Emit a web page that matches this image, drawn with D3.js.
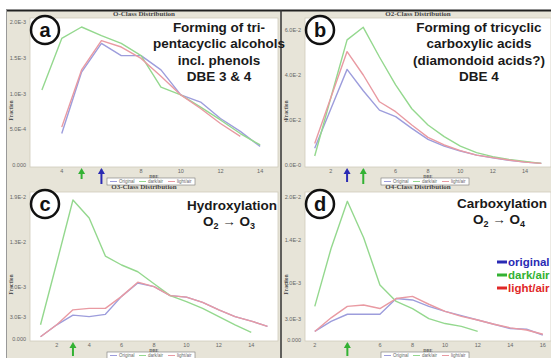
<!DOCTYPE html>
<html>
<head>
<meta charset="utf-8">
<script src="https://cdn.jsdelivr.net/npm/d3@7"></script>
<style>
  body { margin: 0; background: #fff; }
  svg { display: block; }
</style>
</head>
<body>
<div id="chart"></div>
<script>
// panel a: O class
const dbeA = [3, 4, 5, 6, 7, 8, 9, 10, 11, 12, 13, 14];
const origA = [null, 0.44e-3, 1.30e-3, 1.70e-3, 1.53e-3, 1.53e-3, 1.33e-3, 0.98e-3, 0.88e-3, 0.65e-3, 0.47e-3, 0.26e-3];
const darkA = [1.05e-3, 1.77e-3, 1.93e-3, 1.81e-3, 1.70e-3, 1.53e-3, 1.09e-3, 0.98e-3, 0.81e-3, 0.63e-3, 0.44e-3, 0.28e-3];
const lightA = [null, 0.53e-3, 1.33e-3, 1.74e-3, 1.65e-3, 1.49e-3, 1.24e-3, 0.98e-3, 0.79e-3, 0.58e-3, 0.40e-3, null];

// panel b: O2 class
const dbeB = [1, 2, 3, 4, 5, 6, 7, 8, 9, 10, 11, 12, 13, 14, 15];
const origB = [7.4e-3, 25e-3, 42.5e-3, 33e-3, 24.4e-3, 21.5e-3, 16.3e-3, 11.4e-3, 8.4e-3, 6.2e-3, 4.4e-3, 3.2e-3, 2.1e-3, 1.3e-3, 0.7e-3];
const darkB = [4.0e-3, 30e-3, 55.6e-3, 61.2e-3, 48e-3, 35.6e-3, 25e-3, 17.8e-3, 12.6e-3, 8.4e-3, 5.5e-3, 3.7e-3, 2.5e-3, 1.6e-3, 0.7e-3];
const lightB = [9.6e-3, 30e-3, 50.4e-3, 40e-3, 28.1e-3, 23.7e-3, 17.8e-3, 12.3e-3, 8.9e-3, 6.4e-3, 4.4e-3, 3.3e-3, 2.2e-3, 1.3e-3, 0.7e-3];

// panel c: O3 class
const dbeC = [1, 2, 3, 4, 5, 6, 7, 8, 9, 10, 11, 12, 13, 14, 15];
const origC = [0.3e-3, 1.9e-3, 3.2e-3, 3.0e-3, 3.3e-3, 5.7e-3, 7.5e-3, 7.0e-3, 5.8e-3, 5.6e-3, 4.9e-3, 3.9e-3, 3.0e-3, 2.4e-3, 1.7e-3];
const darkC = [1.9e-3, 10.2e-3, 18.6e-3, 16.2e-3, 11.1e-3, 9.9e-3, 9.0e-3, 7.4e-3, 5.8e-3, 5.0e-3, 4.1e-3, 3.0e-3, 1.9e-3, 0.9e-3, null];
const lightC = [0.3e-3, 1.9e-3, 3.9e-3, 4.1e-3, 4.1e-3, 5.7e-3, 7.6e-3, 7.0e-3, 5.8e-3, 5.6e-3, 4.9e-3, 3.9e-3, 3.0e-3, 2.4e-3, 1.7e-3];

// panel d: O4 class
const dbeD = [2, 3, 4, 5, 6, 7, 8, 9, 10, 11, 12, 13, 14, 15, 16];
const origD = [1.2e-3, 2.6e-3, 3.6e-3, 3.6e-3, 3.6e-3, 5.8e-3, 5.6e-3, 4.7e-3, 4.0e-3, 3.4e-3, 2.8e-3, 2.2e-3, 1.6e-3, 1.5e-3, 0.7e-3];
const darkD = [4.7e-3, 12.8e-3, 19.4e-3, 14.3e-3, 7.7e-3, 5.4e-3, 4.4e-3, 3.0e-3, 2.3e-3, 1.9e-3, 1.2e-3, null, null, null, null];
const lightD = [1.2e-3, 3.1e-3, 4.7e-3, 4.9e-3, 4.4e-3, 5.8e-3, 6.1e-3, 5.0e-3, 4.0e-3, 3.3e-3, 2.8e-3, 2.2e-3, 1.7e-3, 1.4e-3, 0.8e-3];

// axis ticks
const yTicksA = [0, 5e-4, 1e-3, 1.5e-3, 2e-3];
const yLabelsA = ['0.000', '5.0E-4', '1.0E-3', '1.5E-3', '2.0E-3'];
const yTicksB = [0, 2e-2, 4e-2, 6e-2];
const yLabelsB = ['0.0E-0', '2.0E-2', '4.0E-2', '6.0E-2'];
const yTicksC = [0, 3e-3, 7e-3, 1.3e-2, 1.9e-2];
const yLabelsC = ['0.000', '3.0E-3', '7.0E-3', '1.3E-2', '1.9E-2'];
const yTicksD = [0, 3e-3, 8e-3, 1.4e-2, 2e-2];
const yLabelsD = ['0.000', '3.0E-3', '8.0E-3', '1.4E-2', '2.0E-2'];
const xTicksA = [4, 6, 8, 10, 12, 14];
const xTicksB = [2, 4, 6, 8, 10, 12, 14];
const xTicksC = [2, 4, 6, 8, 10, 12, 14];
const xTicksD = [2, 4, 6, 8, 10, 12, 14, 16];

const seriesNames = ['Original', 'dark/air', 'light/air'];
const legendNames = ['original', 'dark/air', 'light/air'];
const lineColors = ['#9d9ddc', '#94d88e', '#e99aa2'];
const strongColors = ['#2a2ab4', '#33b233', '#e02828'];

const width = 551, height = 358;
const svg = d3.select('#chart').append('svg')
    .attr('width', width).attr('height', height);

// background frame
svg.append('rect').attr('x', 6).attr('y', 10).attr('width', width - 6).attr('height', height - 10)
    .attr('fill', '#e7e4d8');
svg.append('line').attr('x1', 6).attr('x2', width).attr('y1', 10.5).attr('y2', 10.5)
    .attr('stroke', '#222').attr('stroke-width', 2);
svg.append('line').attr('x1', 6.5).attr('x2', 6.5).attr('y1', 10).attr('y2', height)
    .attr('stroke', '#999').attr('stroke-width', 1);
svg.append('line').attr('x1', 281).attr('x2', 281).attr('y1', 10).attr('y2', height)
    .attr('stroke', '#333').attr('stroke-width', 1.5);

const panels = [
    {letter: 'a', title: 'O-Class Distribution', box: [30, 278, 18, 167], titleY: 15.5,
     xDomain: [2.4, 14.9], yDomain: [0, 2e-3], yRange: [165, 22],
     dbe: dbeA, series: [origA, darkA, lightA], yTicks: yTicksA, yLabels: yLabelsA, xTicks: xTicksA,
     arrows: [{x: 5, c: 1, len: 11}, {x: 6, c: 0, len: 16}],
     text: ['Forming of tri-', 'pentacyclic alcohols', 'incl. phenols', 'DBE 3 & 4'], textX: 219, textY: 32, sub: null},
    {letter: 'b', title: 'O2-Class Distribution', box: [305, 551, 18, 167], titleY: 15.5,
     xDomain: [0.4, 15.6], yDomain: [0, 6e-2], yRange: [165, 30],
     dbe: dbeB, series: [origB, darkB, lightB], yTicks: yTicksB, yLabels: yLabelsB, xTicks: xTicksB,
     arrows: [{x: 3, c: 0, len: 14}, {x: 4, c: 1, len: 16}],
     text: ['Forming of tricyclic', 'carboxylic acids', '(diamondoid acids?)', 'DBE 4'], textX: 479, textY: 32, sub: null},
    {letter: 'c', title: 'O3-Class Distribution', box: [30, 278, 192, 341], titleY: 189,
     xDomain: [0.35, 15.65], yDomain: [0, 1.9e-2], yRange: [339, 197],
     dbe: dbeC, series: [origC, darkC, lightC], yTicks: yTicksC, yLabels: yLabelsC, xTicks: xTicksC,
     arrows: [{x: 3, c: 1, len: 14}],
     text: ['Hydroxylation'], textX: 232, textY: 210, sub: ['2', '3']},
    {letter: 'd', title: 'O4-Class Distribution', box: [305, 551, 192, 341], titleY: 189,
     xDomain: [1.4, 16.5], yDomain: [0, 2e-2], yRange: [340, 197],
     dbe: dbeD, series: [origD, darkD, lightD], yTicks: yTicksD, yLabels: yLabelsD, xTicks: xTicksD,
     arrows: [{x: 4, c: 1, len: 14}],
     text: ['Carboxylation'], textX: 502, textY: 208, sub: ['2', '4'], legend: true}
];

panels.forEach(p => {
    const [x0, x1, y0, y1] = p.box;
    const g = svg.append('g');
    const xScale = d3.scaleLinear().domain(p.xDomain).range([x0, x1]);
    const yScale = d3.scaleLinear().domain(p.yDomain).range(p.yRange);

    g.append('rect').attr('x', x0).attr('y', y0).attr('width', x1 - x0).attr('height', y1 - y0)
        .attr('fill', '#fff').attr('stroke', '#cfcabb').attr('stroke-width', 0.8);

    g.append('text').attr('x', (x0 + x1) / 2 - 10).attr('y', p.titleY)
        .attr('text-anchor', 'middle').attr('font-family', 'Liberation Serif')
        .attr('font-weight', 'bold').attr('font-size', 7).attr('fill', '#444').text(p.title);

    // y axis labels
    g.selectAll('.yl').data(p.yTicks).enter().append('text')
        .attr('x', x0 - 4).attr('y', d => yScale(d) + 2)
        .attr('text-anchor', 'end').attr('font-family', 'Liberation Sans')
        .attr('font-size', 5.5).attr('fill', '#666')
        .text((d, i) => p.yLabels[i]);

    // x axis labels
    g.selectAll('.xl').data(p.xTicks).enter().append('text')
        .attr('x', d => xScale(d)).attr('y', y1 + 6)
        .attr('text-anchor', 'middle').attr('font-family', 'Liberation Sans')
        .attr('font-size', 5.5).attr('fill', '#666').text(d => d);

    const mid = (x0 + x1) / 2;
    g.append('text').attr('x', mid).attr('y', y1 + 10.5)
        .attr('text-anchor', 'middle').attr('font-family', 'Liberation Serif')
        .attr('font-weight', 'bold').attr('font-size', 4.5).attr('fill', '#555').text('DBE');

    g.append('text')
        .attr('transform', `translate(${x0 - 17},${(y0 + y1) / 2 + 18}) rotate(-90)`)
        .attr('text-anchor', 'middle').attr('font-family', 'Liberation Serif')
        .attr('font-weight', 'bold').attr('font-size', 5.5).attr('fill', '#555').text('Fraction');

    // lines
    const line = d3.line()
        .defined(d => d[1] != null)
        .x(d => xScale(d[0]))
        .y(d => yScale(d[1]));
    p.series.forEach((s, i) => {
        g.append('path')
            .datum(p.dbe.map((x, j) => [x, s[j]]))
            .attr('d', line)
            .attr('fill', 'none')
            .attr('stroke', lineColors[i])
            .attr('stroke-width', 1.4)
            .attr('stroke-linejoin', 'round');
    });

    // small legend box
    const lx = mid - 47, ly = y1 + 11;
    g.append('rect').attr('x', lx).attr('y', ly).attr('width', 88).attr('height', 7)
        .attr('fill', '#fff').attr('stroke', '#777').attr('stroke-width', 0.6);
    seriesNames.forEach((n, i) => {
        g.append('line').attr('x1', lx + 3 + i * 29).attr('x2', lx + 10 + i * 29)
            .attr('y1', ly + 3.5).attr('y2', ly + 3.5)
            .attr('stroke', lineColors[i]).attr('stroke-width', 1);
        g.append('text').attr('x', lx + 12 + i * 29).attr('y', ly + 5.3)
            .attr('font-family', 'Liberation Sans').attr('font-size', 4.5)
            .attr('fill', '#666').text(n);
    });

    // arrows under the axis
    p.arrows.forEach(a => {
        const ax = xScale(a.x), top = y1 + 1, bot = top + a.len;
        g.append('line').attr('x1', ax).attr('x2', ax).attr('y1', top + 4).attr('y2', bot)
            .attr('stroke', strongColors[a.c]).attr('stroke-width', 2);
        g.append('path')
            .attr('d', `M${ax - 3.5},${top + 6} L${ax},${top} L${ax + 3.5},${top + 6} Z`)
            .attr('fill', strongColors[a.c]);
    });

    // circled letter
    g.append('circle').attr('cx', x0 + 15).attr('cy', y0 + 12).attr('r', 14)
        .attr('fill', '#fff').attr('stroke', '#111').attr('stroke-width', 2.5);
    g.append('text').attr('x', x0 + 15).attr('y', y0 + 19).attr('text-anchor', 'middle')
        .attr('font-family', 'Liberation Sans').attr('font-weight', 'bold')
        .attr('font-size', 20).attr('fill', '#111').text(p.letter);

    // annotation text
    p.text.forEach((t, i) => {
        g.append('text').attr('x', p.textX).attr('y', p.textY + i * 16.3)
            .attr('text-anchor', 'middle').attr('font-family', 'Liberation Sans')
            .attr('font-weight', 'bold').attr('font-size', 13.5).attr('fill', '#1a1a1a').text(t);
    });
    if (p.sub) {
        const t = g.append('text').attr('x', p.textX - 3).attr('y', p.textY + 16)
            .attr('text-anchor', 'middle').attr('font-family', 'Liberation Sans')
            .attr('font-weight', 'bold').attr('font-size', 13.5).attr('fill', '#1a1a1a');
        t.append('tspan').text('O');
        t.append('tspan').attr('font-size', 9).attr('dy', 3).text(p.sub[0]);
        t.append('tspan').attr('dy', -3).text(' \u2192 O');
        t.append('tspan').attr('font-size', 9).attr('dy', 3).text(p.sub[1]);
    }

    if (p.legend) {
        legendNames.forEach((n, i) => {
            const yy = 266 + i * 13;
            g.append('line').attr('x1', 497).attr('x2', 507).attr('y1', yy - 4).attr('y2', yy - 4)
                .attr('stroke', strongColors[i]).attr('stroke-width', 3);
            g.append('text').attr('x', 508).attr('y', yy)
                .attr('font-family', 'Liberation Sans').attr('font-weight', 'bold')
                .attr('font-size', 11.5).attr('fill', strongColors[i]).text(n);
        });
    }
});
</script>
</body>
</html>
